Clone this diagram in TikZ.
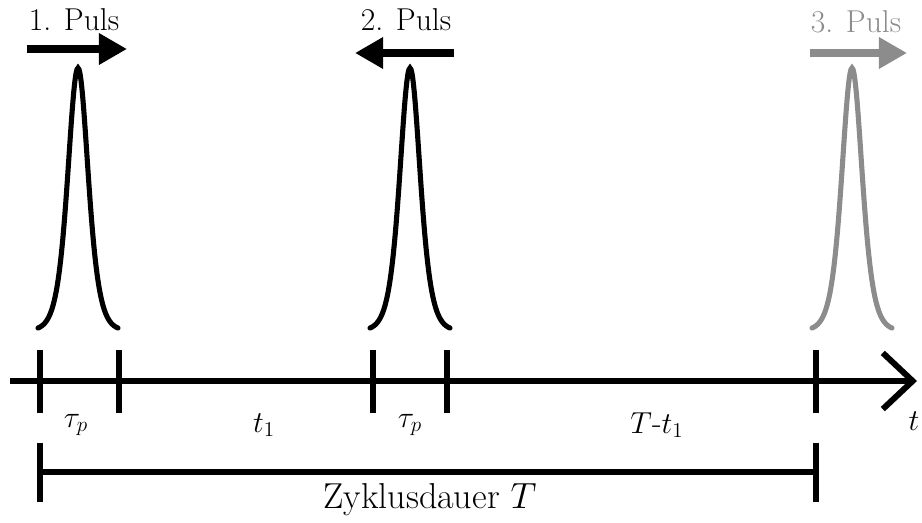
\documentclass[tikz,border=0pt]{standalone}
\usepackage{amsmath}
\usepackage{tikz}
\usetikzlibrary{arrows.meta,calc,positioning}

\begin{document}
\begin{tikzpicture}[x=0.02cm,y=-0.02cm,
    axisline/.style={line width=3.4pt},
    tick/.style={line width=3.4pt},
    pulse/.style={line width=2.9pt,line cap=round,smooth},
    dirarrow/.style={line width=4.5pt,-{Triangle[length=16pt,width=17pt]}},
    lbl/.style={font=\fontsize{18}{22}\selectfont,inner sep=0pt}]
  \useasboundingbox (0,0) rectangle (922,523);
  % time axis
  \coordinate (axstart) at (10,381);
  \coordinate (axend) at (917,381);
  \draw[axisline,-{Straight Barb[length=17pt,width=32pt,line width=3.4pt]}] (axstart) -- (axend);
  \foreach \name/\xx in {ta/40,tb/119,tc/373,td/447,te/816}{
    \coordinate (\name top) at (\xx,350);
    \coordinate (\name bot) at (\xx,413);
    \draw[tick] (\name top) -- (\name bot);
  }
  \node[lbl] (taup1) at (76,425) {$\tau_p$};
  \node[lbl] (tone) at (264,425) {$t_1$};
  \node[lbl] (taup2) at (410,425) {$\tau_p$};
  \node[lbl] (trest) at (657,425) {$T$-$t_1$};
  \node[lbl] (tlab) at (914,421) {$t$};
  % cycle bracket
  \coordinate (cycA) at (40,472);
  \coordinate (cycB) at (816,472);
  \draw[tick] (cycA) -- (cycB);
  \draw[tick] ($(cycA)+(0,-29)$) -- ($(cycA)+(0,30)$);
  \draw[tick] ($(cycB)+(0,-29)$) -- ($(cycB)+(0,30)$);
  \node[lbl,font=\fontsize{20.5}{24}\selectfont] (cyc) at (430,500) {Zyklusdauer $T$};
  % pulses
  \foreach \cx/\col in {78/black,410/black,852/black!45}{
    \draw[pulse,\col] plot[domain=-40:40,samples=81] ({\cx+\x},{331-263/(cosh(0.0734*\x))^2});
  }
  % labels and directions
  \node[lbl] (p1) at (74,20) {1. Puls};
  \coordinate (p1a) at (27,49);
  \coordinate (p1b) at (127,49);
  \draw[dirarrow] (p1a) -- (p1b);
  \node[lbl] (p2) at (406,20) {2. Puls};
  \coordinate (p2a) at (454,53);
  \coordinate (p2b) at (355,53);
  \draw[dirarrow] (p2a) -- (p2b);
  \node[lbl,black!45] (p3) at (856,22) {3. Puls};
  \coordinate (p3a) at (810,53);
  \coordinate (p3b) at (907,53);
  \draw[dirarrow,black!45] (p3a) -- (p3b);
\end{tikzpicture}
\end{document}
